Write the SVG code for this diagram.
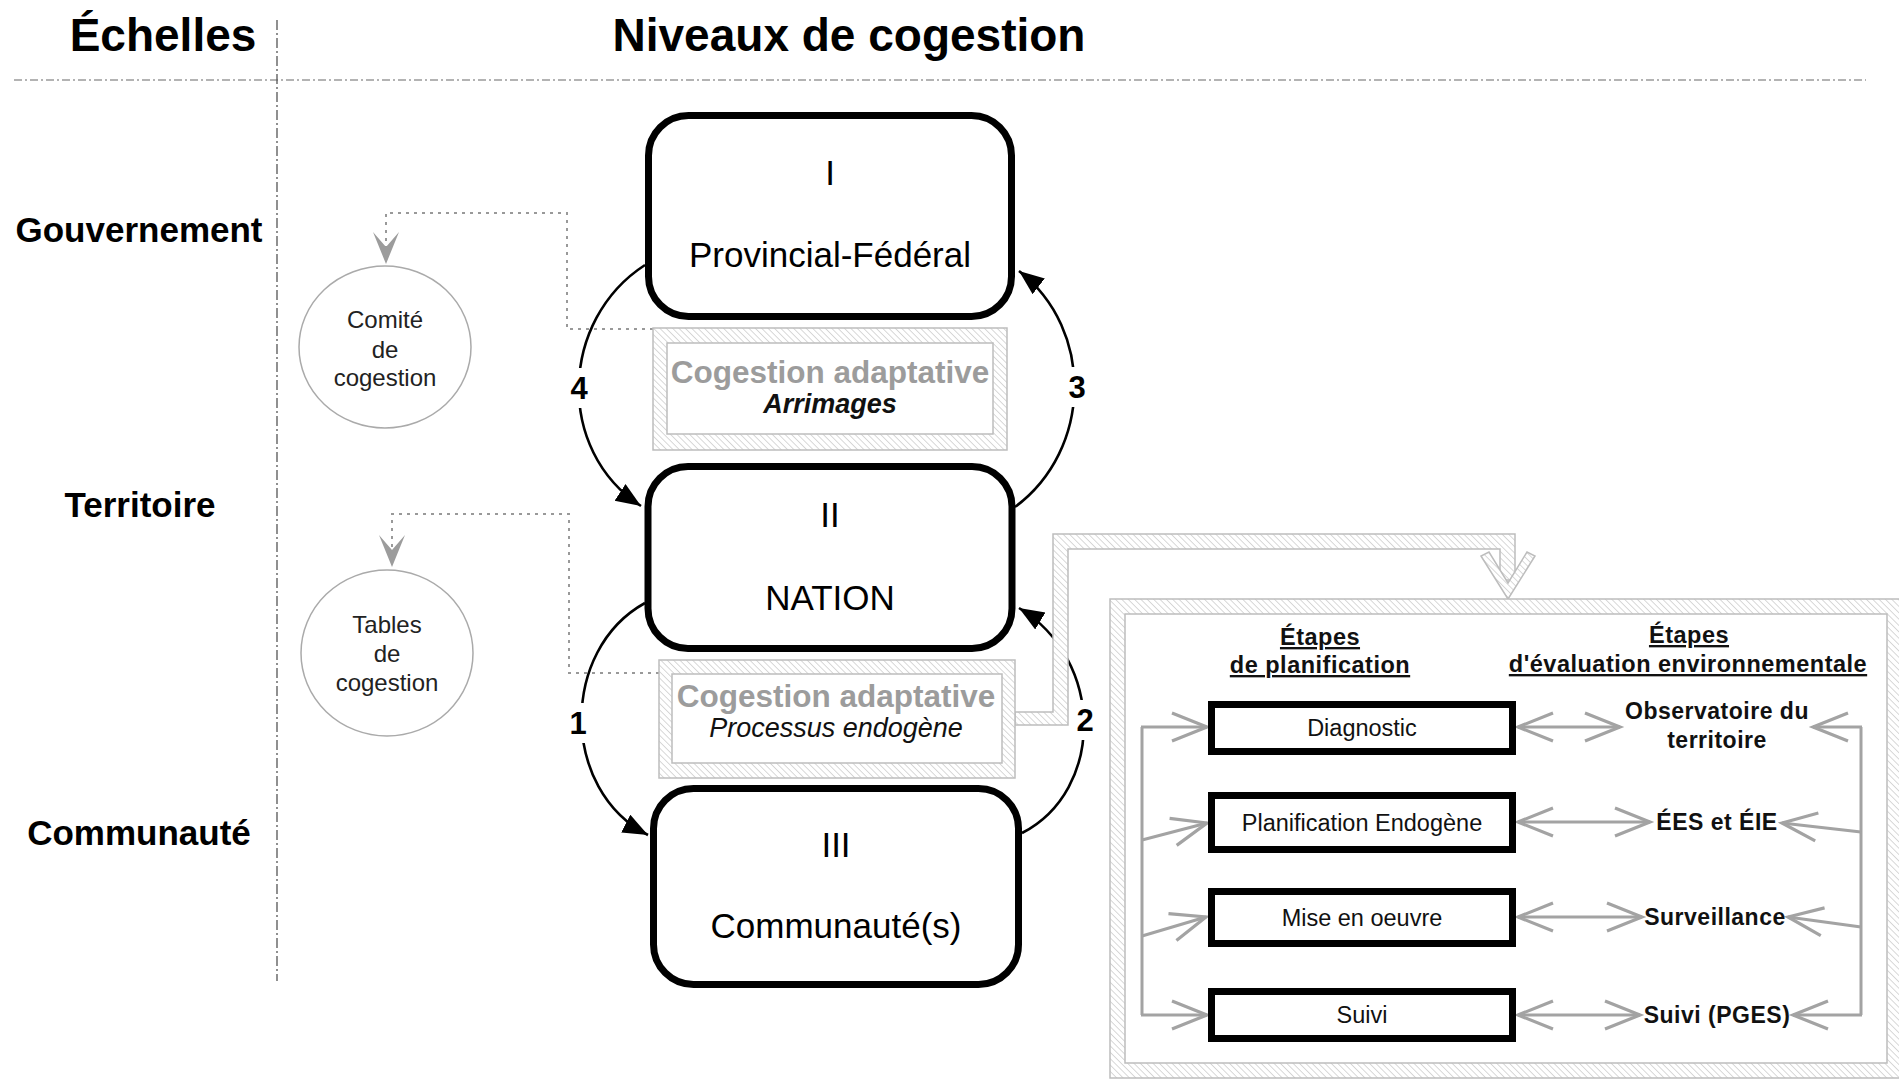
<svg xmlns="http://www.w3.org/2000/svg" width="1899" height="1079" viewBox="0 0 1899 1079">
<style>
text{font-family:"Liberation Sans",Arial,sans-serif;text-anchor:middle}
.title{font-size:46px;font-weight:bold;fill:#000}
.scale{font-size:35px;font-weight:bold;fill:#000}
.lvl{font-size:35px;fill:#000}
.circ{font-size:24px;fill:#222}
.cg{font-size:31.5px;font-weight:bold;fill:#9c9c9c}
.sub{font-size:27px;font-style:italic;fill:#111}
.num{font-size:31px;font-weight:bold;fill:#000}
.hdr{font-size:23.5px;font-weight:bold;fill:#111;text-decoration:underline;letter-spacing:0.5px}
.step{font-size:23.5px;fill:#111}
.ev{font-size:23px;font-weight:bold;fill:#111;letter-spacing:0.5px}
.box{fill:#fff;stroke:#000;stroke-width:7}
.sbox{fill:#fff;stroke:#000;stroke-width:7}
.ell{fill:#fff;stroke:#aaa;stroke-width:1.5}
.hatch{fill:url(#hp);stroke:#bdbdbd;stroke-width:1.5}
.inner{fill:#fff;stroke:#bdbdbd;stroke-width:1.5}
.curve{fill:none;stroke:#000;stroke-width:2.6;marker-end:url(#ah)}
.dot{fill:none;stroke:#999;stroke-width:2;stroke-dasharray:3 5}
.gl{fill:none;stroke:#a3a3a3;stroke-width:3}
.ga{marker-end:url(#gv)}
.gd{marker-start:url(#gv);marker-end:url(#gv)}
</style>
<defs>
<pattern id="hp" patternUnits="userSpaceOnUse" width="4.5" height="4.5" patternTransform="rotate(-45)">
<rect width="4.5" height="4.5" fill="#fff"/>
<line x1="0" y1="0" x2="0" y2="4.5" stroke="#c8c8c8" stroke-width="1.4"/>
</pattern>
<marker id="ah" markerUnits="userSpaceOnUse" markerWidth="28" markerHeight="22" refX="25" refY="10" orient="auto">
<path d="M0,0 L25,10 L0,20 z" fill="#000"/>
</marker>
<marker id="gv" markerUnits="userSpaceOnUse" markerWidth="42" markerHeight="34" refX="37" refY="16" orient="auto-start-reverse">
<path d="M2,2 L37,16 L2,30" fill="none" stroke="#a3a3a3" stroke-width="3.2"/>
</marker>
</defs>
<rect width="1899" height="1079" fill="#fff"/>

<g id="header">
<text class="title" x="163" y="51">Échelles</text>
<text class="title" x="849" y="51">Niveaux de cogestion</text>
<line x1="14" y1="80" x2="1866" y2="80" stroke="#9a9a9a" stroke-width="1.3" stroke-dasharray="8 3 2 3"/>
<line x1="277" y1="20" x2="277" y2="981" stroke="#555" stroke-width="1.3" stroke-dasharray="10 3 2 3"/>
</g>

<g id="scales">
<text class="scale" x="139" y="242">Gouvernement</text>
<text class="scale" x="140" y="517">Territoire</text>
<text class="scale" x="139" y="845">Communauté</text>
</g>

<g id="connectors">
<path class="dot" d="M653,329 H567 V213 H386 V250"/>
<polygon points="373,232 386,264 399,232 386,247" fill="#9c9c9c"/>
<path class="dot" d="M659,673 H569 V514 H392 V553"/>
<polygon points="379,535 392,567 405,535 392,550" fill="#9c9c9c"/>

<path class="curve" d="M645,265 C560,320 555,450 641,506"/>
<path class="curve" d="M1015,507 C1092,450 1095,330 1019,271"/>
<path class="curve" d="M645,603 C560,650 560,790 648,835"/>
<path class="curve" d="M1022,833 C1105,790 1105,660 1019,608"/>
<rect x="566" y="368" width="26" height="40" fill="#fff"/>
<text class="num" x="579" y="399">4</text>
<rect x="1064" y="367" width="26" height="40" fill="#fff"/>
<text class="num" x="1077" y="398">3</text>
<rect x="565" y="703" width="26" height="40" fill="#fff"/>
<text class="num" x="578" y="734">1</text>
<rect x="1072" y="700" width="26" height="40" fill="#fff"/>
<text class="num" x="1085" y="731">2</text>

<path class="hatch" d="M1015,712 L1053,712 L1053,534 L1515,534 L1515,580 L1500,580 L1500,549 L1068,549 L1068,725 L1015,725 Z"/>
<polygon class="hatch" points="1481,556 1508,599 1535,556 1527,552 1508,583 1489,552"/>
</g>

<g id="comite">
<ellipse class="ell" cx="385" cy="347" rx="86" ry="81"/>
<text class="circ" x="385" y="328">Comité</text>
<text class="circ" x="385" y="358">de</text>
<text class="circ" x="385" y="386">cogestion</text>
</g>
<g id="tables">
<ellipse class="ell" cx="387" cy="653" rx="86" ry="83"/>
<text class="circ" x="387" y="633">Tables</text>
<text class="circ" x="387" y="662">de</text>
<text class="circ" x="387" y="691">cogestion</text>
</g>

<g id="level1">
<rect class="box" x="648.5" y="115.5" width="363" height="201" rx="40"/>
<text class="lvl" x="830" y="185">I</text>
<text class="lvl" x="830" y="267">Provincial-Fédéral</text>
</g>
<g id="level2">
<rect class="box" x="648" y="466.5" width="364" height="182" rx="40"/>
<text class="lvl" x="830" y="527">II</text>
<text class="lvl" x="830" y="610">NATION</text>
</g>
<g id="level3">
<rect class="box" x="653.5" y="788.5" width="365" height="196" rx="40"/>
<text class="lvl" x="836" y="857">III</text>
<text class="lvl" x="836" y="938">Communauté(s)</text>
</g>

<g id="cogestion1">
<rect class="hatch" x="653" y="328" width="354" height="122"/>
<rect class="inner" x="667" y="343" width="326" height="91"/>
<text class="cg" x="830" y="383">Cogestion adaptative</text>
<text class="sub" x="830" y="413" font-weight="bold">Arrimages</text>
</g>
<g id="cogestion2">
<rect class="hatch" x="659" y="660" width="356" height="118"/>
<rect class="inner" x="672" y="674" width="330" height="89"/>
<text class="cg" x="836" y="707">Cogestion adaptative</text>
<text class="sub" x="836" y="737" font-size="28">Processus endogène</text>
</g>

<g id="panel">
<rect class="hatch" x="1110" y="599" width="795" height="479"/>
<rect class="inner" x="1125" y="614" width="762" height="449"/>
<text class="hdr" x="1320" y="645">Étapes</text>
<text class="hdr" x="1320" y="673">de planification</text>
<text class="hdr" x="1689" y="643">Étapes</text>
<text class="hdr" x="1688" y="672">d'évaluation environnementale</text>
</g>

<g id="panel-links">
<path class="gl" d="M1142,727 V1015"/>
<path class="gl ga" d="M1141,727 H1207"/>
<path class="gl ga" d="M1142,840 L1207,823"/>
<path class="gl ga" d="M1142,936 L1206,917"/>
<path class="gl ga" d="M1141,1015 H1207"/>
<path class="gl" d="M1861,727 V1015"/>
<path class="gl ga" d="M1862,727 H1813"/>
<path class="gl ga" d="M1861,832 L1782,823"/>
<path class="gl ga" d="M1861,927 L1788,917"/>
<path class="gl ga" d="M1862,1015 H1793"/>
<path class="gl gd" d="M1518,727 H1620"/>
<path class="gl gd" d="M1518,822 H1650"/>
<path class="gl gd" d="M1518,917 H1642"/>
<path class="gl gd" d="M1518,1015 H1640"/>
</g>

<g id="diagnostic">
<rect class="sbox" x="1211.5" y="704.5" width="301" height="47"/>
<text class="step" x="1362" y="736">Diagnostic</text>
</g>
<g id="planification">
<rect class="sbox" x="1211.5" y="795.5" width="301" height="54"/>
<text class="step" x="1362" y="831">Planification Endogène</text>
</g>
<g id="miseenoeuvre">
<rect class="sbox" x="1211.5" y="891.5" width="301" height="52"/>
<text class="step" x="1362" y="926">Mise en oeuvre</text>
</g>
<g id="suivi">
<rect class="sbox" x="1211.5" y="991.5" width="301" height="47"/>
<text class="step" x="1362" y="1023">Suivi</text>
</g>

<g id="observatoire">
<text class="ev" x="1717" y="719">Observatoire du</text>
<text class="ev" x="1717" y="748">territoire</text>
</g>
<g id="ees">
<text class="ev" x="1717" y="830">ÉES et ÉIE</text>
</g>
<g id="surveillance">
<text class="ev" x="1715" y="925">Surveillance</text>
</g>
<g id="suivipges">
<text class="ev" x="1717" y="1023">Suivi (PGES)</text>
</g>
</svg>
